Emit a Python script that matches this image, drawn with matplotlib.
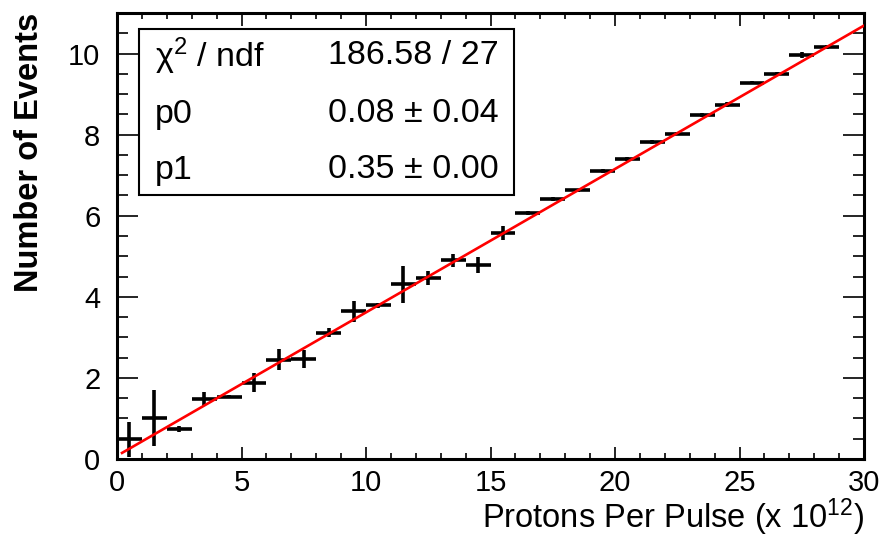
import matplotlib
matplotlib.use("Agg")
import matplotlib.pyplot as plt
import numpy as np

plt.rcParams['font.family'] = ['Liberation Sans', 'DejaVu Sans']
plt.rcParams['mathtext.fontset'] = 'custom'
plt.rcParams['mathtext.rm'] = 'Liberation Sans'
plt.rcParams['mathtext.it'] = 'Liberation Sans:italic'

# bin centres (x 10^12 protons per pulse), contents and errors
bin_centres = np.arange(29) + 0.5
counts = [0.49, 1.01, 0.74, 1.49, 1.54, 1.88, 2.45, 2.47, 3.12, 3.64,
          3.79, 4.31, 4.46, 4.90, 4.78, 5.57, 6.06, 6.41, 6.63, 7.10,
          7.40, 7.82, 8.02, 8.49, 8.74, 9.28, 9.50, 9.97, 10.17]
errors = [0.43, 0.68, 0.08, 0.17, 0.04, 0.23, 0.26, 0.22, 0.10, 0.25,
          0.07, 0.45, 0.18, 0.16, 0.20, 0.17, 0.05, 0.05, 0.04, 0.05,
          0.04, 0.05, 0.04, 0.05, 0.06, 0.04, 0.05, 0.07, 0.05]

# linear fit result
p0 = 0.08
p1 = 0.3537
fit_range = (0.2, 30.0)

fig = plt.figure(figsize=(8.86, 5.38), dpi=100)
ax = fig.add_axes([0.1321, 0.1468, 0.8431, 0.829])

ax.errorbar(bin_centres, counts, xerr=0.5, yerr=errors, fmt='none',
            ecolor='black', elinewidth=2.6, capsize=0, zorder=3)

xf = np.linspace(fit_range[0], fit_range[1], 200)
ax.plot(xf, p0 + p1 * xf, color='red', lw=1.9, zorder=4)

ax.set_xlim(0, 30)
ax.set_ylim(0, 11.0)
ax.set_xticks(np.arange(0, 31, 5))
ax.set_xticks(np.arange(0, 31, 1), minor=True)
ax.set_yticks(np.arange(0, 11, 2))
ax.set_yticks(np.arange(0, 11.01, 0.5), minor=True)

ax.tick_params(which='both', direction='in', top=True, right=True,
               labelsize=21, width=1.2)
ax.tick_params(axis='x', which='major', length=9, pad=7)
ax.tick_params(axis='x', which='minor', length=4.5)
ax.tick_params(axis='y', which='major', length=15, pad=12)
ax.tick_params(axis='y', which='minor', length=8)
for s in ax.spines.values():
    s.set_linewidth(2.2)

ax.set_xlabel(r"Protons Per Pulse (x 10$^{12}$)", fontsize=23.5, loc='right',
              labelpad=0)
ax.set_ylabel("Number of Events", fontsize=23.5, fontweight='bold', loc='top',
              labelpad=16.5)

# stats box
box = plt.Rectangle((139 / 886, 1 - 195 / 538), (514 - 139) / 886,
                    (195 - 29) / 538, transform=fig.transFigure,
                    fill=True, facecolor='white', edgecolor='black', lw=1.5,
                    zorder=5)
fig.add_artist(box)
rows = [(r"χ$^2$ / ndf", "186.58 / 27"),
        ("p0", "0.08 ± 0.04"),
        ("p1", "0.35 ± 0.00")]
row_y = [56, 114, 170]
for (lab, val), yy in zip(rows, row_y):
    fig.text(155 / 886, 1 - yy / 538, lab, fontsize=24.5, va='center',
             ha='left', zorder=6)
    fig.text(499 / 886, 1 - yy / 538, val, fontsize=24.5, va='center',
             ha='right', zorder=6)

fig.savefig("out.png", dpi=100)
